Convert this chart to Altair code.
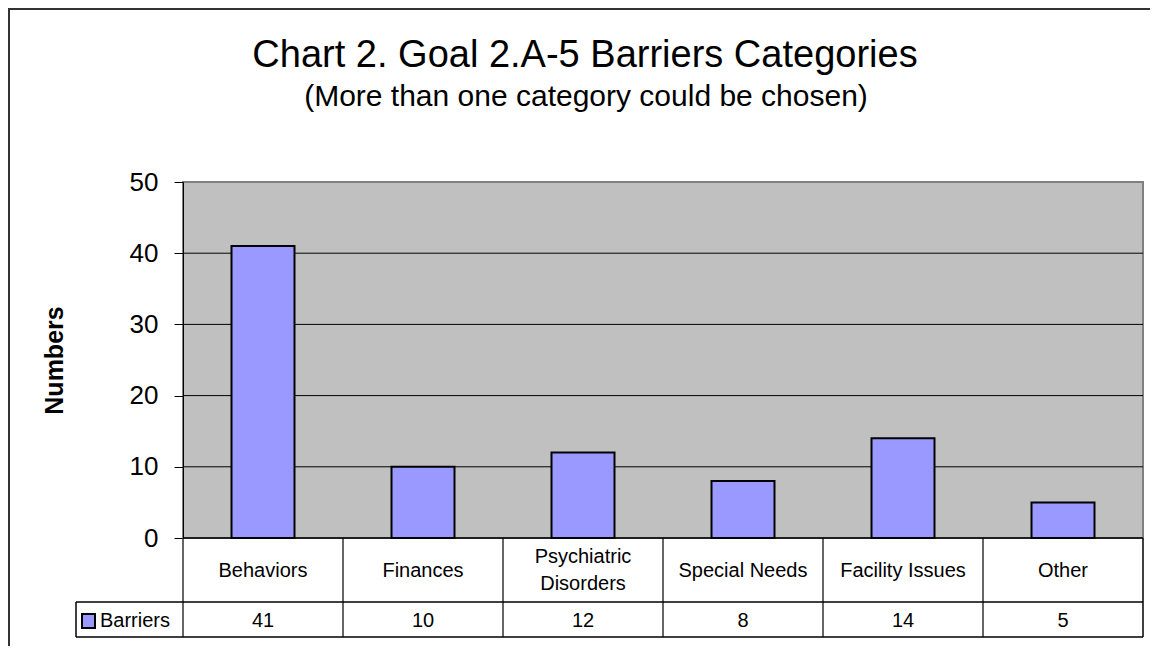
import altair as alt
import pandas as pd

categories = ["Behaviors", "Finances", "Psychiatric Disorders", "Special Needs", "Facility Issues", "Other"]
labels = ["Behaviors", "Finances", "Psychiatric\nDisorders", "Special Needs", "Facility Issues", "Other"]
values = [41, 10, 12, 8, 14, 5]
series_name = "Barriers"
y_ticks = [0, 10, 20, 30, 40, 50]
grid_lines = [10, 20, 30, 40]

FONT = "Liberation Sans"
W, H = 960, 356
ROW1, ROW2 = 64, 35
LEFTCELL = 107

df = pd.DataFrame({"cat": categories, "label": labels, "val": values,
                   "nl": [lab.count("\n") + 1 for lab in labels]})
gdf = pd.DataFrame({"val": grid_lines})
one = pd.DataFrame({"k": [0]})

xscale = alt.Scale(paddingInner=0, paddingOuter=0)
xenc = alt.X("cat:N", sort=categories, scale=xscale, axis=None)
yscale = alt.Scale(domain=[0, 50], nice=False)
yaxis = alt.Axis(values=y_ticks, title="Numbers", titleFont=FONT, titleFontSize=25,
                 titleFontWeight="bold", titleColor="black", titlePadding=62,
                 labelFont=FONT, labelFontSize=26, labelColor="black", labelPadding=16,
                 tickColor="black", tickSize=9, tickWidth=1,
                 domainColor="black", domainWidth=1, grid=False)
yenc = alt.Y("val:Q", scale=yscale, axis=yaxis)

grid = alt.Chart(gdf).mark_rule(color="black", strokeWidth=1).encode(
    y=yenc, x=alt.value(0), x2=alt.value(W))

bars = alt.Chart(df).mark_bar(size=63, fill="#9999FF", stroke="black", strokeWidth=2).encode(
    x=xenc, y=yenc)

cat_text1 = alt.Chart(df).transform_filter(alt.datum.nl == 1).mark_text(
    font=FONT, fontSize=20, color="black", baseline="middle", align="center").encode(
    x=xenc, y=alt.value(H + ROW1 / 2 + 1), text="label:N")

cat_text2 = alt.Chart(df).transform_filter(alt.datum.nl == 2).mark_text(
    font=FONT, fontSize=20, color="black", lineBreak="\n", lineHeight=27, dy=-14,
    baseline="middle", align="center").encode(
    x=xenc, y=alt.value(H + ROW1 / 2 + 1), text="label:N")

val_text = alt.Chart(df).mark_text(font=FONT, fontSize=20, color="black",
                                   baseline="middle", align="center").encode(
    x=xenc, y=alt.value(H + ROW1 + ROW2 / 2 + 1), text="val:Q")

vlines = alt.Chart(df).mark_rule(color="#333333", strokeWidth=1.5).encode(
    x=alt.X("cat:N", sort=categories, scale=xscale, axis=None, bandPosition=0),
    y=alt.value(H), y2=alt.value(H + ROW1 + ROW2))

vlast = alt.Chart(df).transform_filter(alt.datum.cat == categories[-1]).mark_rule(
    color="black", strokeWidth=1.5).encode(
    x=alt.X("cat:N", sort=categories, scale=xscale, axis=None, bandPosition=1),
    y=alt.value(H), y2=alt.value(H + ROW1 + ROW2))

hl1 = alt.Chart(one).mark_rule(color="black", strokeWidth=1.5).encode(
    x=alt.value(-LEFTCELL), x2=alt.value(W), y=alt.value(H + ROW1))
hl2 = alt.Chart(one).mark_rule(color="black", strokeWidth=1.5).encode(
    x=alt.value(-LEFTCELL), x2=alt.value(W), y=alt.value(H + ROW1 + ROW2))
hl0 = alt.Chart(one).mark_rule(color="black", strokeWidth=1.5).encode(
    x=alt.value(0), x2=alt.value(W), y=alt.value(H))
vl0 = alt.Chart(one).mark_rule(color="black", strokeWidth=1.5).encode(
    x=alt.value(-LEFTCELL), y=alt.value(H + ROW1), y2=alt.value(H + ROW1 + ROW2))

swatch = alt.Chart(one).mark_rect(fill="#9999FF", stroke="black", strokeWidth=2).encode(
    x=alt.value(-101), x2=alt.value(-88), y=alt.value(H + ROW1 + 12), y2=alt.value(H + ROW1 + 26))
leg_text = alt.Chart(one).mark_text(font=FONT, fontSize=20, color="black", align="left",
                                    baseline="middle").encode(
    x=alt.value(-83), y=alt.value(H + ROW1 + ROW2 / 2 + 1), text=alt.value(series_name))

title = alt.Chart(one).mark_text(font=FONT, fontSize=38, color="black", align="center",
                                 baseline="alphabetic").encode(
    x=alt.value(402), y=alt.value(-115), text=alt.value("Chart 2. Goal 2.A-5 Barriers Categories"))
subtitle = alt.Chart(one).mark_text(font=FONT, fontSize=30, color="black", align="center",
                                    baseline="alphabetic").encode(
    x=alt.value(403), y=alt.value(-76), text=alt.value("(More than one category could be chosen)"))

frame = alt.Chart(one).mark_rect(filled=False, stroke="#333333", strokeWidth=2).encode(
    x=alt.value(-174), y=alt.value(-173), x2=alt.value(W + 12), y2=alt.value(H + 112))

chart = alt.layer(
    frame, grid, bars, vlines, vlast, hl0, hl1, hl2, vl0, cat_text1, cat_text2, val_text,
    swatch, leg_text, title, subtitle
).properties(
    width=W, height=H,
    autosize=alt.AutoSizeParams(type="none"),
    padding={"left": 175, "top": 174, "right": 7, "bottom": 108},
    background="white",
).configure_view(
    fill="#C0C0C0", stroke="#808080", strokeWidth=2
)

chart.save("out.html", embed_options={"renderer": "svg", "actions": False})
